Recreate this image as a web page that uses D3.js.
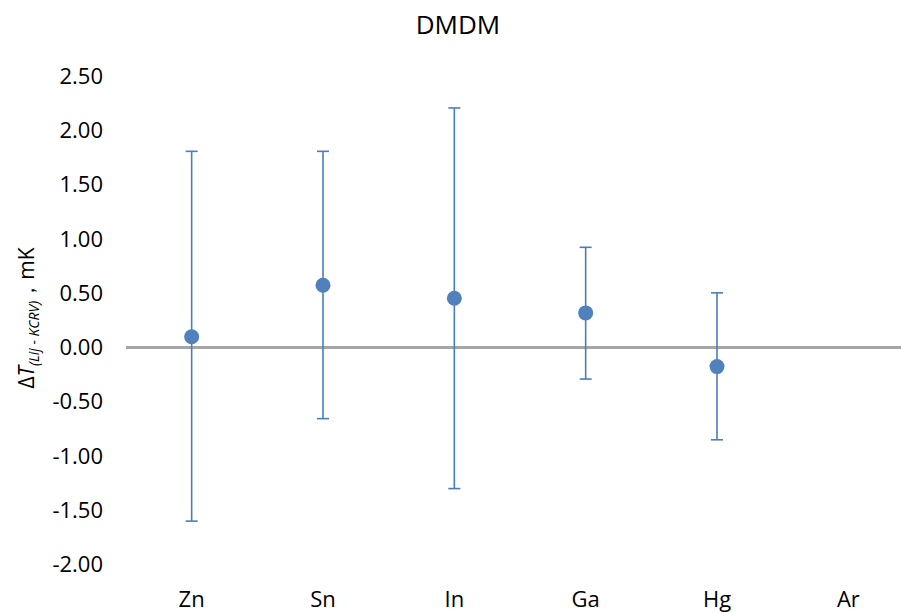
<!DOCTYPE html>
<html><head><meta charset="utf-8">
<script src="https://cdn.jsdelivr.net/npm/d3@7"></script>
<style>body{margin:0;background:#fff}svg{display:block}</style>
</head><body>
<script>
const categories = ["Zn","Sn","In","Ga","Hg","Ar"];
const values = [0.10, 0.575, 0.455, 0.32, -0.175, null];
const upper = [1.81, 1.81, 2.21, 0.925, 0.505, null];
const lower = [-1.60, -0.655, -1.30, -0.29, -0.85, null];
const yTicks = [-2.0,-1.5,-1.0,-0.5,0,0.5,1.0,1.5,2.0,2.5];

const W = 901, H = 613;
const font = "'Open Sans', 'Noto Sans', sans-serif";
const svg = d3.select("body").append("svg").attr("width", W).attr("height", H);

const x = d3.scaleBand().domain(categories).range([126, 914]);
const y = d3.scaleLinear().domain([-2, 2.5]).range([564.5, 76.5]);

svg.append("text").attr("x", 458).attr("y", 34).attr("text-anchor","middle")
  .attr("font-family", font).attr("font-size", 26).attr("fill","#000").text("DMDM");

// y tick labels
const fmt = d3.format(".2f");
const yAxis = d3.axisLeft(y).tickValues(yTicks).tickFormat(d => fmt(d).replace("\u2212","-")).tickSize(0).tickPadding(0);
const ga = svg.append("g").attr("transform","translate(103,0)").call(yAxis);
ga.select(".domain").remove();
ga.selectAll("text").attr("font-family", font).attr("font-size", 22).attr("fill","#000");

// x labels
const xAxis = d3.axisBottom(x).tickSize(0).tickPadding(0);
const gx = svg.append("g").attr("transform","translate(0,607)").call(xAxis);
gx.select(".domain").remove();
gx.selectAll("text").attr("font-family", font).attr("font-size", 22).attr("fill","#000").attr("dy","0");

// zero line
svg.append("line").attr("x1",126).attr("x2",W).attr("y1",y(0)).attr("y2",y(0))
  .attr("stroke","#a6a6a6").attr("stroke-width",3);

const blue = "#4a7ebb";
const data = categories.map((c,i)=>({c, v:values[i], hi:upper[i], lo:lower[i]})).filter(d=>d.v!==null);
const cx = d => x(d.c) + x.bandwidth()/2;
const g = svg.append("g");
g.selectAll(".eb").data(data).join("line").attr("x1",cx).attr("x2",cx)
  .attr("y1",d=>y(d.hi)).attr("y2",d=>y(d.lo)).attr("stroke",blue).attr("stroke-width",1.6);
g.selectAll(".capT").data(data).join("line").attr("x1",d=>cx(d)-6).attr("x2",d=>cx(d)+6)
  .attr("y1",d=>y(d.hi)).attr("y2",d=>y(d.hi)).attr("stroke",blue).attr("stroke-width",1.6);
g.selectAll(".capB").data(data).join("line").attr("x1",d=>cx(d)-6).attr("x2",d=>cx(d)+6)
  .attr("y1",d=>y(d.lo)).attr("y2",d=>y(d.lo)).attr("stroke",blue).attr("stroke-width",1.6);
g.selectAll("circle").data(data).join("circle").attr("cx",cx).attr("cy",d=>y(d.v))
  .attr("r",7.5).attr("fill","#4f81bd");

// y label
const yl = svg.append("text").attr("transform","translate(34,318) rotate(-90)")
  .attr("text-anchor","middle").attr("font-family", font).attr("font-size",21).attr("fill","#000");
yl.append("tspan").text("Δ");
yl.append("tspan").attr("font-style","italic").text("T");
yl.append("tspan").attr("font-style","italic").attr("font-size",14).attr("dy",5).text("(Lij - KCRV)");
yl.append("tspan").attr("dy",-5).text("，mK");
</script>
</body></html>
